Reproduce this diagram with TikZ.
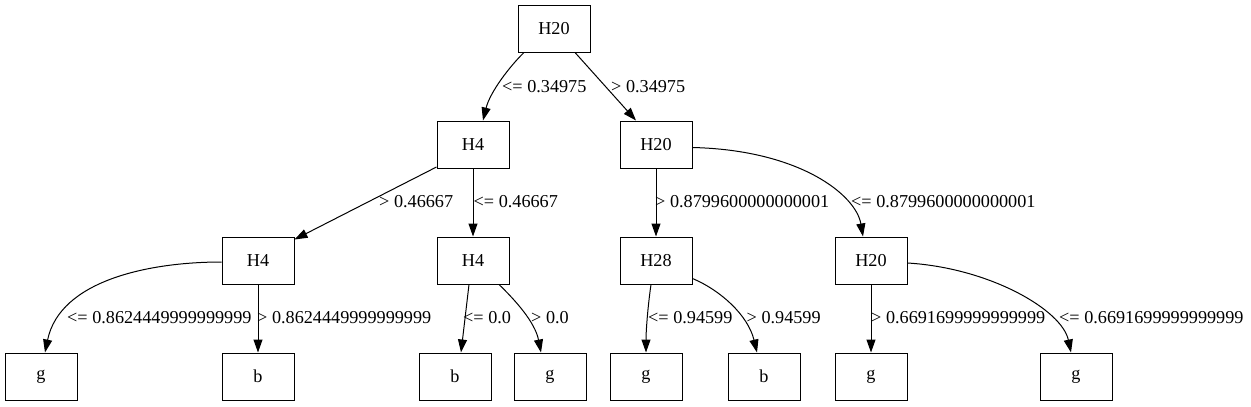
\documentclass[tikz,border=0pt]{standalone}
\usepackage{fontspec}
\setmainfont{Liberation Serif}
\usetikzlibrary{arrows.meta}
\tikzset{
  tnode/.style={draw, line width=1pt, minimum width=72pt, minimum height=47pt, inner sep=0pt, font=\fontsize{18.2}{22}\selectfont},
  elabel/.style={anchor=west, inner sep=0pt, font=\fontsize{18.2}{22}\selectfont},
  edge/.style={line width=1pt, -{Triangle[length=13pt,width=9pt]}}
}
\begin{document}
\begin{tikzpicture}[x=1pt,y=-1pt]
\useasboundingbox (0,0) rectangle (1251,407);
% nodes
\node[tnode] (root) at (554,28.5) {H20};
\node[tnode] (l1a) at (473,144.5) {H4};
\node[tnode] (l1b) at (656,144.5) {H20};
\node[tnode] (l2a) at (258,260.5) {H4};
\node[tnode] (l2b) at (473,260.5) {H4};
\node[tnode] (l2c) at (656,260.5) {H28};
\node[tnode] (l2d) at (871,260.5) {H20};
\node[tnode] (g1) at (41,376.5) {g};
\node[tnode] (b1) at (258,376.5) {b};
\node[tnode] (b2) at (455,376.5) {b};
\node[tnode] (g2) at (550,376.5) {g};
\node[tnode] (g3) at (646,376.5) {g};
\node[tnode] (b3) at (764,376.5) {b};
\node[tnode] (g4) at (871,376.5) {g};
\node[tnode] (g5) at (1076,376.5) {g};
% edges
\draw[edge] ([xshift=-30pt]root.south) .. controls (510,66) and (490,92) .. ([xshift=10pt]l1a.north);
\draw[edge] ([xshift=21pt]root.south) -- ([xshift=-20pt]l1b.north);
\draw[edge] ([yshift=1.5pt]l1a.south west) -- ([yshift=-3pt]l2a.north east);
\draw[edge] (l1a.south) -- (l2b.north);
\draw[edge] (l1b.south) -- (l2c.north);
\draw[edge] ([yshift=-3pt]l1b.east) .. controls (800,150) and (856,195) .. ([xshift=-8pt]l2d.north);
\draw[edge] ([yshift=-1.5pt]l2a.west) .. controls (150,262) and (60,280) .. ([xshift=4pt]g1.north);
\draw[edge] (l2a.south) -- (b1.north);
\draw[edge] ([xshift=-4pt]l2b.south) -- ([xshift=6pt]b2.north);
\draw[edge] ([xshift=26pt]l2b.south) .. controls (515,300) and (535,322) .. ([xshift=-9pt]g2.north);
\draw[edge] ([xshift=-5pt]l2c.south) .. controls (648,305) and (646,330) .. (g3.north);
\draw[edge] ([yshift=6pt]l2c.south east) .. controls (720,290) and (748,315) .. ([xshift=-7pt]b3.north);
\draw[edge] (l2d.south) -- (g4.north);
\draw[edge] ([yshift=-2.5pt]l2d.east) .. controls (990,268) and (1062,310) .. ([xshift=-5pt]g5.north);
% labels
\node[elabel] (t1) at (502,87) {<= 0.34975};
\node[elabel] (t2) at (611,87) {> 0.34975};
\node[elabel] (t3) at (379,202) {> 0.46667};
\node[elabel] (t4) at (473.5,202) {<= 0.46667};
\node[elabel] (t5) at (655,202) {> 0.8799600000000001};
\node[elabel] (t6) at (851,202) {<= 0.8799600000000001};
\node[elabel] (t7) at (67,318) {<= 0.8624449999999999};
\node[elabel] (t8) at (257,318) {> 0.8624449999999999};
\node[elabel] (t9) at (463,318) {<= 0.0};
\node[elabel] (t10) at (531,318) {> 0.0};
\node[elabel] (t11) at (648,318) {<= 0.94599};
\node[elabel] (t12) at (746.5,318) {> 0.94599};
\node[elabel] (t13) at (871,318) {> 0.6691699999999999};
\node[elabel] (t14) at (1059,318) {<= 0.6691699999999999};
\end{tikzpicture}
\end{document}
